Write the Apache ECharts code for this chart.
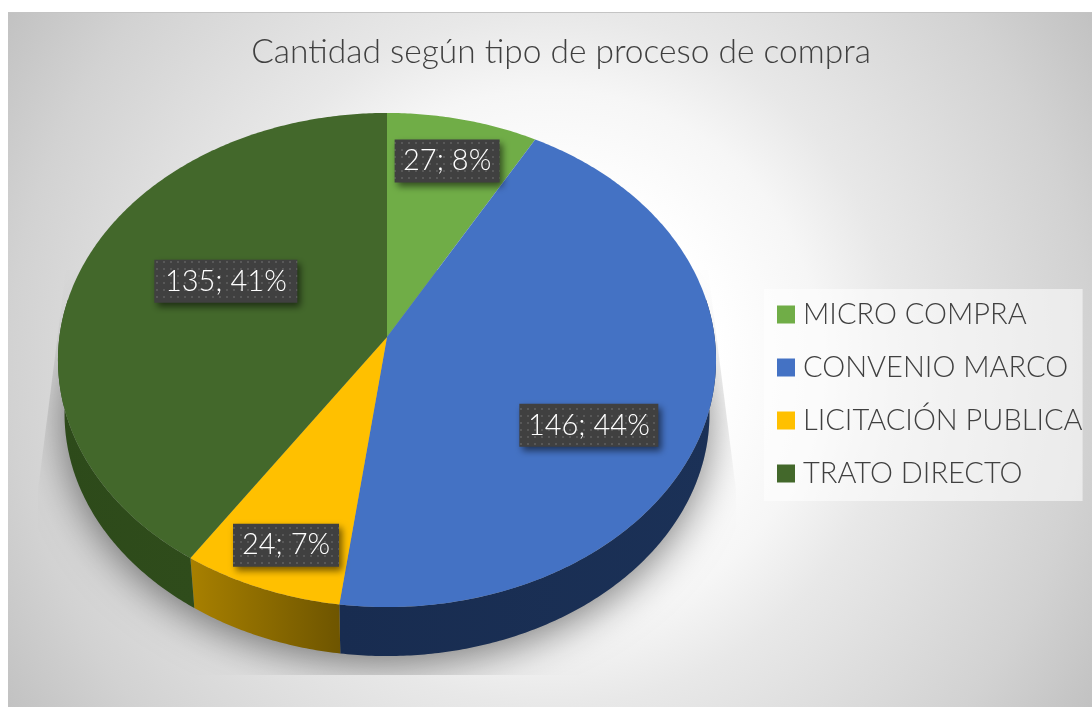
<!DOCTYPE html>
<html><head><meta charset="utf-8">
<style>html,body{margin:0;padding:0;background:#fff;overflow:hidden}#c{width:1092px;height:707px}</style>
<script src="https://cdn.jsdelivr.net/npm/echarts@6/dist/echarts.min.js"></script>
</head><body><div id="c"></div>
<script>
const categories = ['MICRO COMPRA','CONVENIO MARCO','LICITACIÓN PUBLICA','TRATO DIRECTO'];
const values = [27,146,24,135];
const chartTitle = 'Cantidad según tipo de proceso de compra';

const topColors = ['#70ad47','#4472c4','#ffc000','#43682b'];
const wallColors = [['#43682b','#43682b'],['#182c50','#1b3157'],['#a88000','#6e5500'],['#2d4a1a','#2f4c1b']];
const labelNudge = [[13,-41],[12,41],[-28,63],[24,-14]];
const FONT = 'Lato, "Open Sans", sans-serif';

const total = values.reduce((a,b)=>a+b,0);
const starts = values.map((_,i)=>values.slice(0,i).reduce((a,b)=>a+b,0)/total*Math.PI*2);
const ends = values.map((v,i)=>starts[i]+v/total*Math.PI*2);

// perspective projection of the tilted disc
const AX=387, AY=337, BX=327.6, BY=244.9, K=-0.0931, DEPTH=54.4, SHRINK=0.98;
function proj(t,r){const u=r*Math.sin(t),v=-r*Math.cos(t),d=1+K*v;return [AX+BX*u/d,AY+BY*v/d];}
function low(t){const p=proj(t,1);return [AX+(p[0]-AX)*SHRINK,AY+(p[1]-AY)*SHRINK+DEPTH];}
function arc(a,b,fn){const n=Math.max(2,Math.ceil((b-a)/0.01));const o=[];for(let i=0;i<=n;i++)o.push(fn(a+(b-a)*i/n));return o;}

const dot=document.createElement('canvas');dot.width=7;dot.height=7;
const g=dot.getContext('2d');g.fillStyle='#404040';g.fillRect(0,0,7,7);g.fillStyle='#585858';g.fillRect(2,2,2,2);

function sliceItem(i){
  return function(){
    const children=[];
    const a=Math.max(starts[i],Math.PI*0.45),b=Math.min(ends[i],Math.PI*1.55);
    if(b>a){
      const wall=arc(a,b,t=>proj(t,1)).concat(arc(a,b,low).reverse());
      const xs=wall.map(p=>p[0]);
      const x0=Math.min(...xs),x1=Math.max(...xs);
      children.push({type:'polygon',shape:{points:wall},style:{fill:{type:'linear',x:x0,y:0,x2:x1,y2:0,global:true,
        colorStops:[{offset:0,color:wallColors[i][0]},{offset:1,color:wallColors[i][1]}]}},z2:1});
    }
    children.push({type:'polygon',shape:{points:[[AX,AY]].concat(arc(starts[i],ends[i],t=>proj(t,1)))},
      style:{fill:topColors[i]},z2:2});
    return {type:'group',children};
  };
}
function shadowItem(){
  const pts=arc(0,Math.PI*2,low);
  return {type:'polygon',shape:{points:pts},
    style:{fill:'#9a9a9a',shadowColor:'rgba(0,0,0,0.5)',shadowBlur:42,shadowOffsetY:8},
    clipPath:{type:'polygon',shape:{points:[[66,270],[38,490],[38,675],[736,675],[736,490],[708,270]]}}};
}
function labelItem(params){
  const i=params.dataIndex;
  const mid=(starts[i]+ends[i])/2,p=proj(mid,0.6);
  const cx=p[0]+labelNudge[i][0],cy=p[1]+labelNudge[i][1];
  const text=values[i]+'; '+Math.round(values[i]/total*100)+'%';
  const w=[105,139,106,143][i],h=43;
  return {type:'group',children:[
    {type:'rect',shape:{x:cx-w/2,y:cy-h/2,width:w,height:h},
     style:{fill:{image:dot,repeat:'repeat'},shadowColor:'rgba(0,0,0,0.55)',shadowBlur:7,shadowOffsetX:3,shadowOffsetY:4}},
    {type:'text',style:{x:cx,y:cy,text,fill:'#fff',font:'300 29px '+FONT,align:'center',verticalAlign:'middle'}}
  ]};
}

const series=categories.map((name,i)=>({
  type:'custom',name,coordinateSystem:'none',silent:true,z:3,
  itemStyle:{color:topColors[i]},data:[values[i]],renderItem:sliceItem(i)
}));
series.unshift({type:'custom',name:'sombra',coordinateSystem:'none',silent:true,z:2,data:[0],renderItem:shadowItem});
series.push({type:'custom',name:'etiquetas',coordinateSystem:'none',silent:true,z:4,data:values,renderItem:labelItem});

const chart=echarts.init(document.getElementById('c'),null,{renderer:'canvas'});
chart.setOption({
  animation:false,
  graphic:[
    {type:'rect',z:-1,silent:true,shape:{x:8,y:12,width:1084,height:695},
     style:{fill:{type:'radial',x:0.5,y:0.5,r:0.924,colorStops:[{offset:0,color:'#ffffff'},{offset:0.26,color:'#ffffff'},{offset:0.42,color:'#f6f6f6'},{offset:0.54,color:'#e8e8e8'},{offset:0.635,color:'#e1e1e1'},{offset:0.84,color:'#d2d2d2'},{offset:1,color:'#c2c2c2'}]}}},
    {type:'rect',z:-1,silent:true,shape:{x:8,y:12,width:1084,height:1},style:{fill:'#c4c4c4'}}
  ],
  title:{text:chartTitle,left:556,top:30,textAlign:'center',textStyle:{color:'#404040',fontFamily:FONT,fontWeight:300,fontSize:33.5}},
  legend:{data:categories,orient:'vertical',left:764,top:289,width:324,padding:[7,0,9,13],itemGap:16,itemWidth:18,itemHeight:18,icon:'rect',
    backgroundColor:'rgba(255,255,255,0.55)',selectedMode:false,
    textStyle:{color:'#404040',fontFamily:FONT,fontWeight:300,fontSize:29,lineHeight:37,padding:[0,0,0,3]}},
  series
});
</script></body></html>
